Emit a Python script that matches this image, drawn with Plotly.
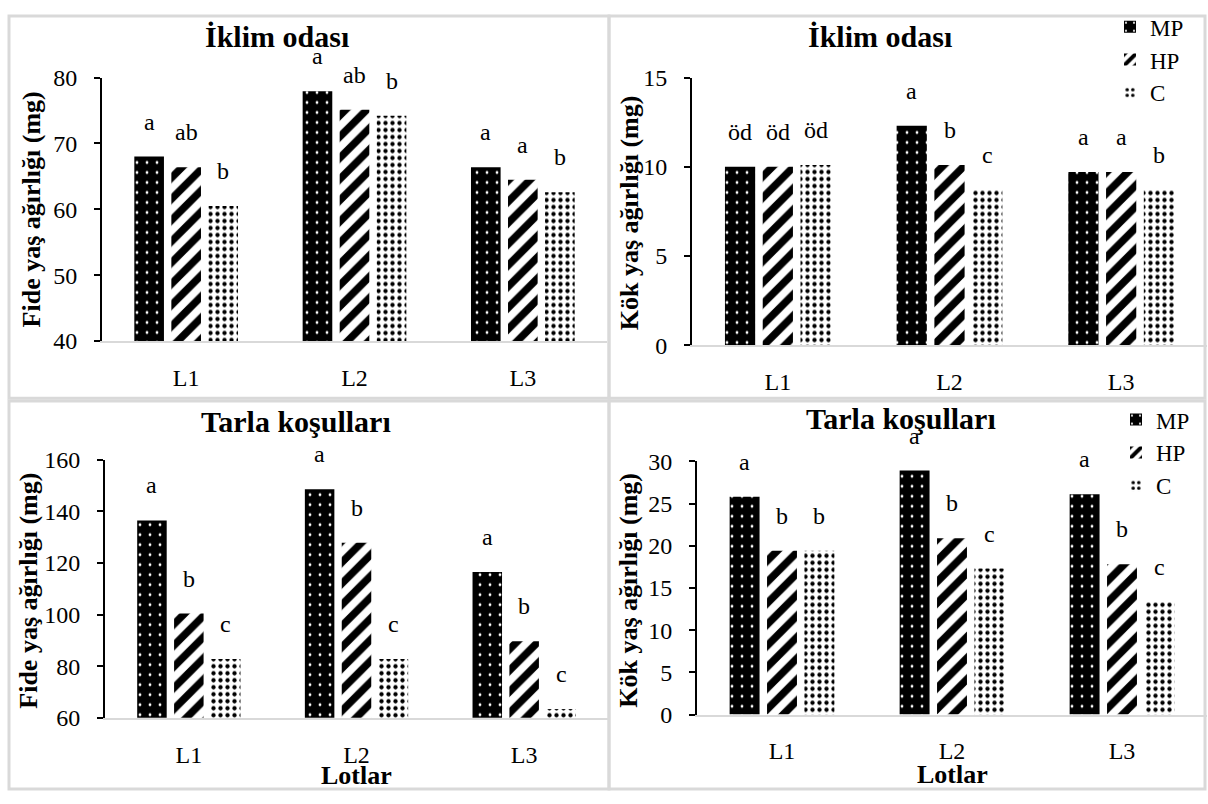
import plotly.graph_objects as go

# ---- data -------------------------------------------------------------
lots = ["L1", "L2", "L3"]
groups = ["MP", "HP", "C"]

# İklim odası - Fide yaş ağırlığı (mg)
climate_seedling_mp = [68.0, 77.9, 66.4]
climate_seedling_hp = [66.4, 75.1, 64.5]
climate_seedling_c = [60.5, 74.2, 62.6]
climate_seedling_letters_mp = ["a", "a", "a"]
climate_seedling_letters_hp = ["ab", "ab", "a"]
climate_seedling_letters_c = ["b", "b", "b"]

# İklim odası - Kök yaş ağırlığı (mg)
climate_root_mp = [10.0, 12.3, 9.7]
climate_root_hp = [10.0, 10.1, 9.7]
climate_root_c = [10.1, 8.7, 8.7]
climate_root_letters_mp = ["öd", "a", "a"]
climate_root_letters_hp = ["öd", "b", "a"]
climate_root_letters_c = ["öd", "c", "b"]

# Tarla koşulları - Fide yaş ağırlığı (mg)
field_seedling_mp = [136.5, 148.6, 116.5]
field_seedling_hp = [100.4, 127.8, 89.7]
field_seedling_c = [82.8, 82.8, 63.4]
field_seedling_letters_mp = ["a", "a", "a"]
field_seedling_letters_hp = ["b", "b", "b"]
field_seedling_letters_c = ["c", "c", "c"]

# Tarla koşulları - Kök yaş ağırlığı (mg)
field_root_mp = [25.8, 28.9, 26.1]
field_root_hp = [19.4, 20.9, 17.8]
field_root_c = [19.4, 17.3, 13.3]
field_root_letters_mp = ["a", "a", "a"]
field_root_letters_hp = ["b", "b", "b"]
field_root_letters_c = ["b", "c", "c"]

# ---- layout helpers -----------------------------------------------------
W, H = 1208, 804
SERIF = "Liberation Serif, Times New Roman, serif"
BAR_GAP = 0.34
GROUP_GAP = 0.2


def fx(px):
    return px / W


def fy(py):
    return 1 - py / H


patterns = {
    "MP": dict(shape=".", bgcolor="black", fgcolor="white", size=10,
               solidity=0.06, fillmode="replace"),
    "HP": dict(shape="/", bgcolor="white", fgcolor="black", size=15,
               solidity=0.5, fillmode="replace"),
    "C": dict(shape=".", bgcolor="white", fgcolor="black", size=7,
              solidity=0.3, fillmode="replace"),
}

panels = [
    dict(title="İklim odası", ytitle="Fide yaş ağırlığı (mg)",
         series=[climate_seedling_mp, climate_seedling_hp, climate_seedling_c],
         letters=[climate_seedling_letters_mp, climate_seedling_letters_hp,
                  climate_seedling_letters_c],
         yrange=[40, 80], dtick=10,
         xdom=(102, 607), ydom=(66.7, 339),
         title_pos=(277, 24), ytitle_pos=(31, 203), legend=None, lotlar=None),
    dict(title="İklim odası", ytitle="Kök yaş ağırlığı (mg)",
         series=[climate_root_mp, climate_root_hp, climate_root_c],
         letters=[climate_root_letters_mp, climate_root_letters_hp,
                  climate_root_letters_c],
         yrange=[0, 15], dtick=5,
         xdom=(692, 1207), ydom=(66.7, 343.3),
         title_pos=(880, 24), ytitle_pos=(629, 207), legend="legend", lotlar=None),
    dict(title="Tarla koşulları", ytitle="Fide yaş ağırlığı (mg)",
         series=[field_seedling_mp, field_seedling_hp, field_seedling_c],
         letters=[field_seedling_letters_mp, field_seedling_letters_hp,
                  field_seedling_letters_c],
         yrange=[60, 160], dtick=20,
         xdom=(105, 608), ydom=(461.7, 728.3),
         title_pos=(296, 422), ytitle_pos=(29, 597), legend=None, lotlar=788),
    dict(title="Tarla koşulları", ytitle="Kök yaş ağırlığı (mg)",
         series=[field_root_mp, field_root_hp, field_root_c],
         letters=[field_root_letters_mp, field_root_letters_hp,
                  field_root_letters_c],
         yrange=[0, 30], dtick=5,
         xdom=(697, 1207), ydom=(463.3, 725),
         title_pos=(901, 419), ytitle_pos=(629, 597), legend="legend2", lotlar=787),
]

fig = go.Figure()
annotations = []
slot = (1 - BAR_GAP) / len(groups)
xpos = list(range(len(lots)))


def paper_text(x, y, text, size, bold=True, angle=0):
    return dict(x=fx(x), y=fy(y), xref="paper", yref="paper",
                xanchor="center", yanchor="middle", textangle=angle,
                text="<b>%s</b>" % text if bold else text, showarrow=False,
                font=dict(family=SERIF, size=size, color="black"))


for k, p in enumerate(panels):
    sfx = "" if k == 0 else str(k + 1)
    xref, yref = "x" + sfx, "y" + sfx
    for j, g in enumerate(groups):
        fig.add_trace(go.Bar(
            x=xpos, y=p["series"][j], name=g,
            xaxis=xref, yaxis=yref,
            marker=dict(color="white" if g != "MP" else "black",
                        pattern=patterns[g], line=dict(width=0)),
            showlegend=p["legend"] is not None,
            legend=p["legend"] or "legend",
            hoverinfo="skip",
        ))
        # significance letters above every bar
        for i, (v, lab) in enumerate(zip(p["series"][j], p["letters"][j])):
            annotations.append(dict(
                x=i + (j - 1) * slot, y=v, xref=xref, yref=yref,
                text=lab, showarrow=False, xanchor="center",
                yanchor="bottom", yshift=20,
                font=dict(family=SERIF, size=24, color="black")))

    fig.layout["xaxis" + sfx] = dict(
        domain=[fx(p["xdom"][0]), fx(p["xdom"][1])], anchor=yref,
        range=[-0.5, 2.5], tickvals=xpos, ticktext=lots,
        showline=True, linecolor="#D9D9D9", linewidth=2,
        ticks="", showgrid=False, zeroline=False, ticklabelstandoff=14,
        tickfont=dict(family=SERIF, size=24, color="black"), fixedrange=True)
    fig.layout["yaxis" + sfx] = dict(
        domain=[fy(p["ydom"][1]), fy(p["ydom"][0])], anchor=xref,
        range=p["yrange"], dtick=p["dtick"],
        showline=True, linecolor="black", linewidth=2,
        ticks="outside", ticklen=6, tickwidth=2, tickcolor="black",
        showgrid=False, zeroline=False, ticklabelstandoff=12,
        tickfont=dict(family=SERIF, size=24, color="black"), fixedrange=True)

    annotations.append(paper_text(*p["title_pos"], p["title"], 30))
    annotations.append(paper_text(*p["ytitle_pos"], p["ytitle"], 26, angle=-90))
    if p["lotlar"]:
        annotations.append(paper_text((p["xdom"][0] + p["xdom"][1]) / 2,
                                      p["lotlar"], "Lotlar", 26))

# light gray frames around each chart
frames = [(9, 3, 609, 398), (609, 3, 1205, 398), (9, 401, 609, 802), (609, 401, 1205, 802)]
shapes = [dict(type="rect", xref="paper", yref="paper",
               x0=fx(a), x1=fx(c), y0=fy(d), y1=fy(b),
               line=dict(color="#D9D9D9", width=3), layer="below")
          for a, b, c, d in frames]

legend_style = dict(font=dict(family=SERIF, size=23, color="black"),
                    bgcolor="rgba(0,0,0,0)", xanchor="left", yanchor="top",
                    itemwidth=30, tracegroupgap=0)

fig.update_layout(
    width=W, height=H, margin=dict(l=0, r=0, t=0, b=0),
    paper_bgcolor="white", plot_bgcolor="rgba(0,0,0,0)",
    barmode="group", bargap=BAR_GAP, bargroupgap=GROUP_GAP,
    annotations=annotations, shapes=shapes,
    legend=dict(x=fx(1110), y=fy(-8), **legend_style),
    legend2=dict(x=fx(1116), y=fy(398), **legend_style),
    font=dict(family=SERIF, color="black"),
)

fig.write_html("out.html")
